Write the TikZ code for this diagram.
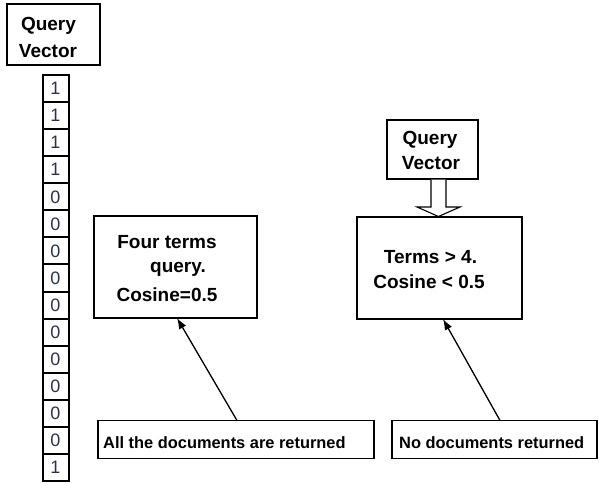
\documentclass[tikz,border=0pt]{standalone}
\usepackage{fontspec}
\setmainfont{Liberation Sans}
\usetikzlibrary{arrows.meta}
\definecolor{digit}{RGB}{45,50,75}
\begin{document}
\begin{tikzpicture}[x=1pt,y=-1pt,
  box/.style={draw,line width=1.8pt,rectangle,inner sep=0pt},
  cell/.style={draw,line width=2pt,rectangle,inner sep=0pt,minimum width=26pt,minimum height=27.07pt,
    font=\fontsize{18}{18}\selectfont,text=digit},
  big/.style={anchor=base,inner sep=0pt,font=\fontsize{19}{19}\selectfont\bfseries},
  small/.style={anchor=base west,inner sep=0pt,font=\fontsize{16.4}{16.4}\selectfont\bfseries},
  pointer/.style={line width=1.3pt,-{Latex[length=11pt,width=8pt]}},
  blockarrow/.style={draw,line width=1.1pt,fill=white,line join=miter}]
\fill[white] (0,0) rectangle (599,483);
\useasboundingbox (0,0) rectangle (599,483);

% query vector on the left and its column of term weights
\node[box,minimum width=93pt,minimum height=61pt] (qv1) at (53.5,34.5) {};
\node[big] (qv1a) at (48.5,30) {Query};
\node[big] (qv1b) at (48,57) {Vector};
\foreach \v [count=\i] in {1,1,1,1,0,0,0,0,0,0,0,0,0,0,1}
  \node[cell] (c\i) at (55.5,{75+27.07*(\i-0.5)}) {\v};

% four-term query box
\node[box,minimum width=163pt,minimum height=102pt] (four) at (175.5,267) {};
\node[big] (fourA) at (167,248) {Four terms};
\node[big] (fourB) at (178,272) {query.};
\node[big] (fourC) at (167,301) {Cosine=0.5};

% longer query box with its query vector
\node[box,minimum width=91pt,minimum height=59pt] (qv2) at (432.5,149.5) {};
\node[big] (qv2a) at (430,144) {Query};
\node[big] (qv2b) at (431,169) {Vector};
\node[box,minimum width=165pt,minimum height=102pt] (more) at (439.5,268) {};
\node[big] (moreA) at (430.5,263) {Terms > 4.};
\node[big] (moreB) at (429,288) {Cosine < 0.5};

% hollow block arrow from the query vector into the box
\path[blockarrow] (431,179.5) -- (431,207) -- (417,207) -- (438.5,216.5) -- (460,207) -- (446,207) -- (446,179.5);

% result boxes
\node[box,minimum width=276pt,minimum height=38pt] (allret) at (236,439.5) {};
\node[small] (allretT) at (103,448) {All the documents are returned};
\node[box,minimum width=205pt,minimum height=38pt] (noret) at (494.5,439.5) {};
\node[small] (noretT) at (399,448) {No documents returned};

% pointers from results to the query boxes
\coordinate (tailL) at (237,420.5);
\coordinate (tipL) at (177,318);
\coordinate (tailR) at (500,420.5);
\coordinate (tipR) at (443,319);
\draw[pointer] (tailL) -- (tipL);
\draw[pointer] (tailR) -- (tipR);
\end{tikzpicture}
\end{document}
